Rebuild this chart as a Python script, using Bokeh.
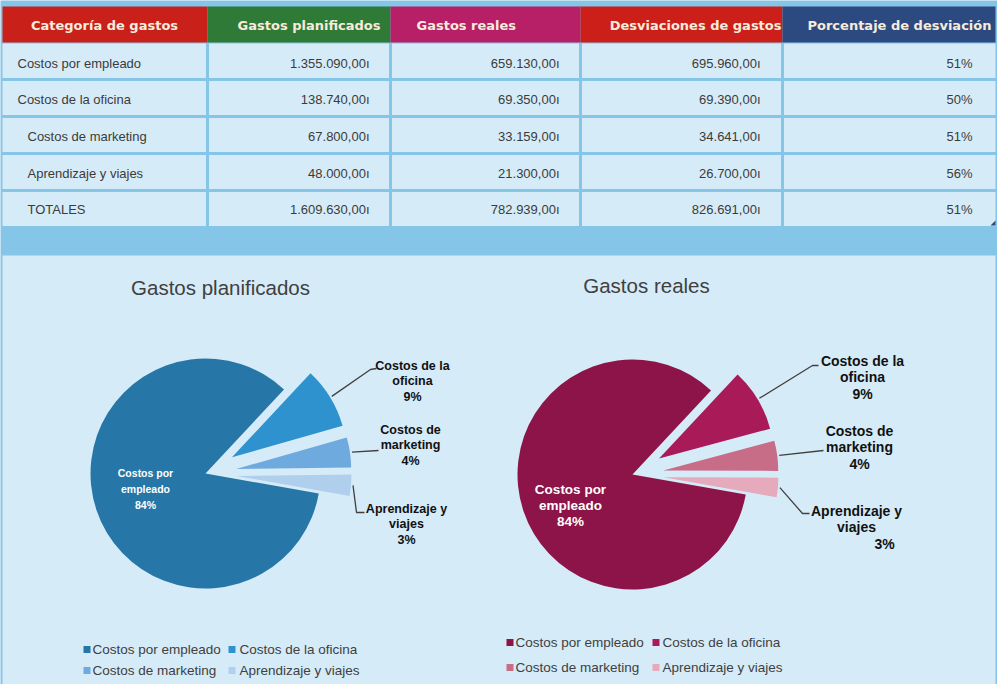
import numpy as np
from bokeh.plotting import figure
from bokeh.models import Range1d, ColumnDataSource
from bokeh.core.properties import value
from bokeh.embed import file_html
from bokeh.resources import INLINE

# ---------------- data ----------------
columns = ["Categoría de gastos", "Gastos planificados", "Gastos reales",
           "Desviaciones de gastos", "Porcentaje de desviación"]
categories = ["Costos por empleado", "Costos de la oficina",
              "Costos de marketing", "Aprendizaje y viajes"]
total_label = "TOTALES"
planned = [1355090.00, 138740.00, 67800.00, 48000.00]
actual = [659130.00, 69350.00, 33159.00, 21300.00]
deviation = [695960.00, 69390.00, 34641.00, 26700.00]
deviation_pct = [51, 50, 51, 56]
total_pct = 51
currency = "ı"

chart_titles = ["Gastos planificados", "Gastos reales"]
blue_colors = ["#2677A7", "#2E92CF", "#6FAADF", "#B0CFEC"]
red_colors = ["#8C1448", "#A91A59", "#C76D88", "#E5AABB"]
header_colors = ["#C9211A", "#2F7A37", "#B71F66", "#CC1F19", "#2C4A80"]

FRAME = "#85C5E8"
CELL = "#D6EBF8"
TEXT = "#3B3B3B"

W, H = 997, 684


def X(sx):
    return sx - 8


def Y(sy):
    return 692 - sy


def fmt_money(v):
    s = f"{v:,.2f}"
    return s.replace(",", "#").replace(".", ",").replace("#", ".") + currency


p = figure(width=W, height=H, x_range=Range1d(0, W), y_range=Range1d(0, H),
           output_backend="svg", toolbar_location=None,
           x_axis_location=None, y_axis_location=None, min_border=0,
           background_fill_color=FRAME, border_fill_color=FRAME,
           outline_line_color=None)
p.grid.visible = False


def txt(xs, ys, texts, size, color, align="left", font="Liberation Sans",
        style="normal"):
    src = ColumnDataSource(dict(x=[X(v) for v in xs], y=[Y(v) for v in ys], t=texts))
    p.text(x="x", y="y", text="t", source=src, text_align=align,
           text_baseline="middle", text_font=value(font),
           text_font_size=value(size), text_font_style=style, text_color=color)


# ---------------- table ----------------
xb = [10, 215, 398, 588, 790, 1003]
yb = [50, 87, 124, 161, 198, 235]

p.quad(left=[X(xb[i]) for i in range(5)], right=[X(xb[i + 1]) for i in range(5)],
       top=[Y(14)] * 5, bottom=[Y(50)] * 5, fill_color=header_colors, line_color=None)

L, R, T, B = [], [], [], []
for r in range(5):
    for c in range(5):
        L.append(X(xb[c] + (0 if c == 0 else 1.5)))
        R.append(X(xb[c + 1] - (0 if c == 4 else 1.5)))
        T.append(Y(yb[r] + (1 if r == 0 else 1.5)))
        B.append(Y(yb[r + 1] - 1.5))
p.quad(left=L, right=R, top=T, bottom=B, fill_color=CELL, line_color=None)

hdr_col = "#F7EBDC"
hfont = "DejaVu Sans"
txt([112], [33], [columns[0]], "13px", hdr_col, "center", hfont, "bold")
txt([388], [33], [columns[1]], "13px", hdr_col, "right", hfont, "bold")
txt([424], [33], [columns[2]], "13px", hdr_col, "left", hfont, "bold")
txt([789], [33], [columns[3]], "13px", hdr_col, "right", hfont, "bold")
txt([815], [33], [columns[4]], "13px", hdr_col, "left", hfont, "bold")

row_y = [71, 107, 144, 181, 217]
row_names = categories + [total_label]
name_x = [25, 25, 35, 35, 35]
txt(name_x, row_y, row_names, "13px", TEXT, "left")

col_planned = [fmt_money(v) for v in planned] + [fmt_money(sum(planned))]
col_actual = [fmt_money(v) for v in actual] + [fmt_money(sum(actual))]
col_dev = [fmt_money(v) for v in deviation] + [fmt_money(sum(deviation))]
col_pct = [f"{v}%" for v in deviation_pct] + [f"{total_pct}%"]
txt([377] * 5, row_y, col_planned, "13px", TEXT, "right")
txt([567] * 5, row_y, col_actual, "13px", TEXT, "right")
txt([768] * 5, row_y, col_dev, "13px", TEXT, "right")
txt([980] * 5, row_y, col_pct, "13px", TEXT, "right")

# small resize handle
p.patch(x=[X(1003), X(1003), X(998)], y=[Y(228), Y(233), Y(233)],
        fill_color="#2C4A80", line_color=None)

# ---------------- chart panel ----------------
p.quad(left=[X(10)], right=[X(1003)], top=[Y(263)], bottom=[0],
       fill_color=CELL, line_color=None)

pies = [
    dict(values=planned, colors=blue_colors, title=chart_titles[0],
         center=(213, 481), title_xy=(228, 295),
         inner=(153, 480), inner_size="10.5px", inner_dy=16,
         outer_size="12.5px", outer_dy=15.5,
         outer_anchor=[(420, 373), (418, 437), (414, 516)], third_dx=[0, 0, 0],
         leader_pts=[[(378, 377), (384, 376)], [(386, 458)], [(364, 520), (372, 520)]],
         legend_sq_x=[91, 236], legend_tx=[100, 247], legend_y=[657, 678]),
    dict(values=actual, colors=red_colors, title=chart_titles[1],
         center=(640, 482), title_xy=(654, 293),
         inner=(578, 497), inner_size="13.5px", inner_dy=16,
         outer_size="14px", outer_dy=16.5,
         outer_anchor=[(870, 368), (867, 438), (864, 518)], third_dx=[0, 0, 28],
         leader_pts=[[(820, 373), (826, 373)], [(831, 458)], [(810, 521), (817, 521)]],
         legend_sq_x=[514, 660], legend_tx=[523, 670], legend_y=[650, 675]),
]

RADIUS = 115
EXPLODE = 31
THETA0 = -10.0

for pie in pies:
    vals = np.array(pie["values"], dtype=float)
    frac = vals / vals.sum()
    cum = np.concatenate([[0.0], np.cumsum(frac)[:-1]])
    start = np.radians(THETA0 - 360 * (cum + frac))
    end = np.radians(THETA0 - 360 * cum)
    mid = (start + end) / 2
    off = np.array([0.0] + [EXPLODE] * (len(vals) - 1))
    cx, cy = X(pie["center"][0]), Y(pie["center"][1])
    xs = cx + off * np.cos(mid)
    ys = cy + off * np.sin(mid)
    p.wedge(x=xs, y=ys, radius=RADIUS, start_angle=start, end_angle=end,
            fill_color=pie["colors"], line_color=None)

    pct = np.round(frac * 100).astype(int)

    # title
    txt([pie["title_xy"][0]], [pie["title_xy"][1]], [pie["title"]], "20.5px",
        "#404040", "center")

    # inner label
    first, second = categories[0].rsplit(" ", 1)
    ix, iy = pie["inner"]
    d = pie["inner_dy"]
    txt([ix] * 3, [iy, iy + d, iy + 2 * d], [first, second, f"{pct[0]}%"],
        pie["inner_size"], "white", "center", style="bold")

    # outer labels + leaders
    lx, ly = [], []
    for k in range(1, 4):
        a, b = categories[k].rsplit(" ", 1)
        ax, ay = pie["outer_anchor"][k - 1]
        dd = pie["outer_dy"]
        txt([ax, ax, ax + pie["third_dx"][k - 1]], [ay, ay + dd, ay + 2 * dd],
            [a, b, f"{pct[k]}%"], pie["outer_size"], "#111111", "center",
            style="bold")
        sx0 = xs[k] + (RADIUS + 2) * np.cos(mid[k])
        sy0 = ys[k] + (RADIUS + 2) * np.sin(mid[k])
        lx.append([sx0] + [X(px) for px, _ in pie["leader_pts"][k - 1]])
        ly.append([sy0] + [Y(py) for _, py in pie["leader_pts"][k - 1]])
    p.multi_line(xs=lx, ys=ly, line_color="#404040", line_width=1.3)

    # legend
    sqx, sqy, tx, ty = [], [], [], []
    for k in range(4):
        col, row = k % 2, k // 2
        sqx.append(X(pie["legend_sq_x"][col] + 3.5))
        sqy.append(Y(pie["legend_y"][row]))
        tx.append(pie["legend_tx"][col])
        ty.append(pie["legend_y"][row])
    p.rect(x=sqx, y=sqy, width=7, height=7, fill_color=pie["colors"], line_color=None)
    txt(tx, ty, categories, "13.5px", "#404040", "left")

open("out.html", "w").write(file_html(p, INLINE))
